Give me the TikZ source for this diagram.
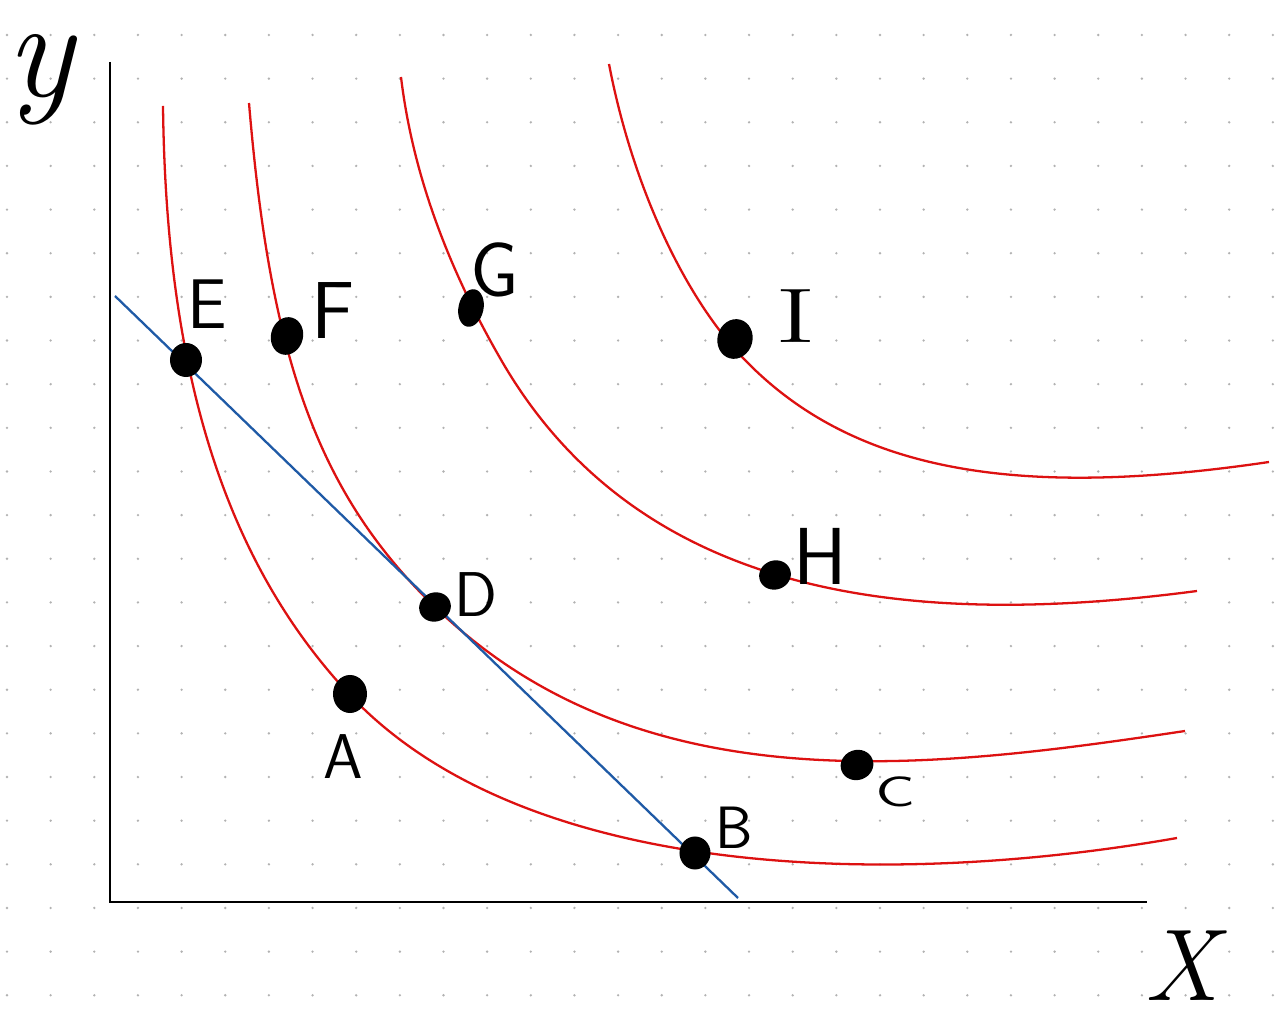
\documentclass[tikz,border=0pt]{standalone}
\usepackage{xcolor}
\usepackage{tikz}
\usetikzlibrary{shapes.geometric}
\definecolor{icred}{HTML}{DD1111}
\definecolor{budblue}{HTML}{1F5AA6}

\begin{document}
\begin{tikzpicture}[
    x=0.01cm, y=-0.01cm,
    griddot/.style={fill=black!30},
    axis/.style={draw=black, line width=0.7pt},
    indiff/.style={draw=icred, line width=0.65pt},
    budget/.style={draw=budblue, line width=0.65pt},
    blob/.style={ellipse, fill=black, inner sep=0pt},
    lbl/.style={font=\sffamily\fontsize{20}{24}\selectfont, inner sep=0pt},
]
\useasboundingbox[fill=white] (0,0) rectangle (1287,1019);

% Dotted paper
\foreach \i in {0,...,29}
  \foreach \j in {0,...,22}
    \fill[griddot] (7+43.65*\i, 35+43.65*\j) circle (1.3);

% Axes
\coordinate (origin) at (110,902);
\coordinate (ytop) at (110,62);
\coordinate (xend) at (1147,902);
\draw[axis] (ytop) -- (origin) -- (xend);

% Indifference curves
\draw[indiff] (163,106) .. controls (166,360) and (219,555) .. (349,694)
  .. controls (520,877) and (880,890) .. (1177,838);
\draw[indiff] (249,103) .. controls (270,353) and (315,491) .. (435,607)
  .. controls (640,805) and (925,770) .. (1185,731);
\draw[indiff] (401,77) .. controls (413,177) and (450,271) .. (500,358)
  .. controls (640,603) and (917,628) .. (1197,591);
\draw[indiff] (609,64) .. controls (632,184) and (683,295) .. (743,358)
  .. controls (853,473) and (1019,499) .. (1269,462);

% Budget line
\coordinate (bltop) at (115,296);
\coordinate (blend) at (738,898);
\draw[budget] (bltop) -- (blend);

% Bundles
\node[blob, minimum width=0.32cm, minimum height=0.34cm] (E) at (186,360) {};
\node[blob, minimum width=0.32cm, minimum height=0.38cm, rotate=-15] (F) at (287,336) {};
\node[blob, minimum width=0.25cm, minimum height=0.38cm, rotate=-12] (G) at (471,308) {};
\node[blob, minimum width=0.35cm, minimum height=0.40cm, rotate=-15] (I) at (735,339) {};
\node[blob, minimum width=0.32cm, minimum height=0.29cm, rotate=20] (H) at (775,575) {};
\node[blob, minimum width=0.32cm, minimum height=0.29cm, rotate=20] (D) at (435,607) {};
\node[blob, minimum width=0.34cm, minimum height=0.38cm] (A) at (350,694) {};
\node[blob, minimum width=0.31cm, minimum height=0.33cm] (B) at (695,853) {};
\node[blob, minimum width=0.33cm, minimum height=0.30cm, rotate=20] (C) at (857,765) {};

% Labels
\node[lbl] (Elbl) at (207,304) {E};
\node[lbl, font=\sffamily\fontsize{23}{26}\selectfont] (Flbl) at (333,311) {F};
\node[lbl, font=\sffamily\fontsize{22}{26}\selectfont] (Glbl) at (495,270) {G};
\node[lbl, font=\rmfamily\fontsize{22}{26}\selectfont, xscale=1.6] (Ilbl) at (796,316) {I};
\node[lbl, font=\sffamily\fontsize{23}{26}\selectfont] (Hlbl) at (820,556) {H};
\node[lbl, font=\sffamily\fontsize{18}{22}\selectfont] (Dlbl) at (476,595) {D};
\node[lbl, font=\sffamily\fontsize{18}{22}\selectfont] (Albl) at (343,757) {A};
\node[lbl, font=\sffamily\fontsize{17}{22}\selectfont] (Blbl) at (734,828) {B};
\node[lbl, font=\sffamily\fontsize{12}{14}\selectfont, xscale=1.5] (Clbl) at (895,792) {C};
\node[lbl, font=\itshape\fontsize{40}{44}\selectfont] (ylbl) at (40,80) {y};
\node[lbl, font=\itshape\fontsize{29}{32}\selectfont] (xlbl) at (1182,966) {X};
\end{tikzpicture}
\end{document}
